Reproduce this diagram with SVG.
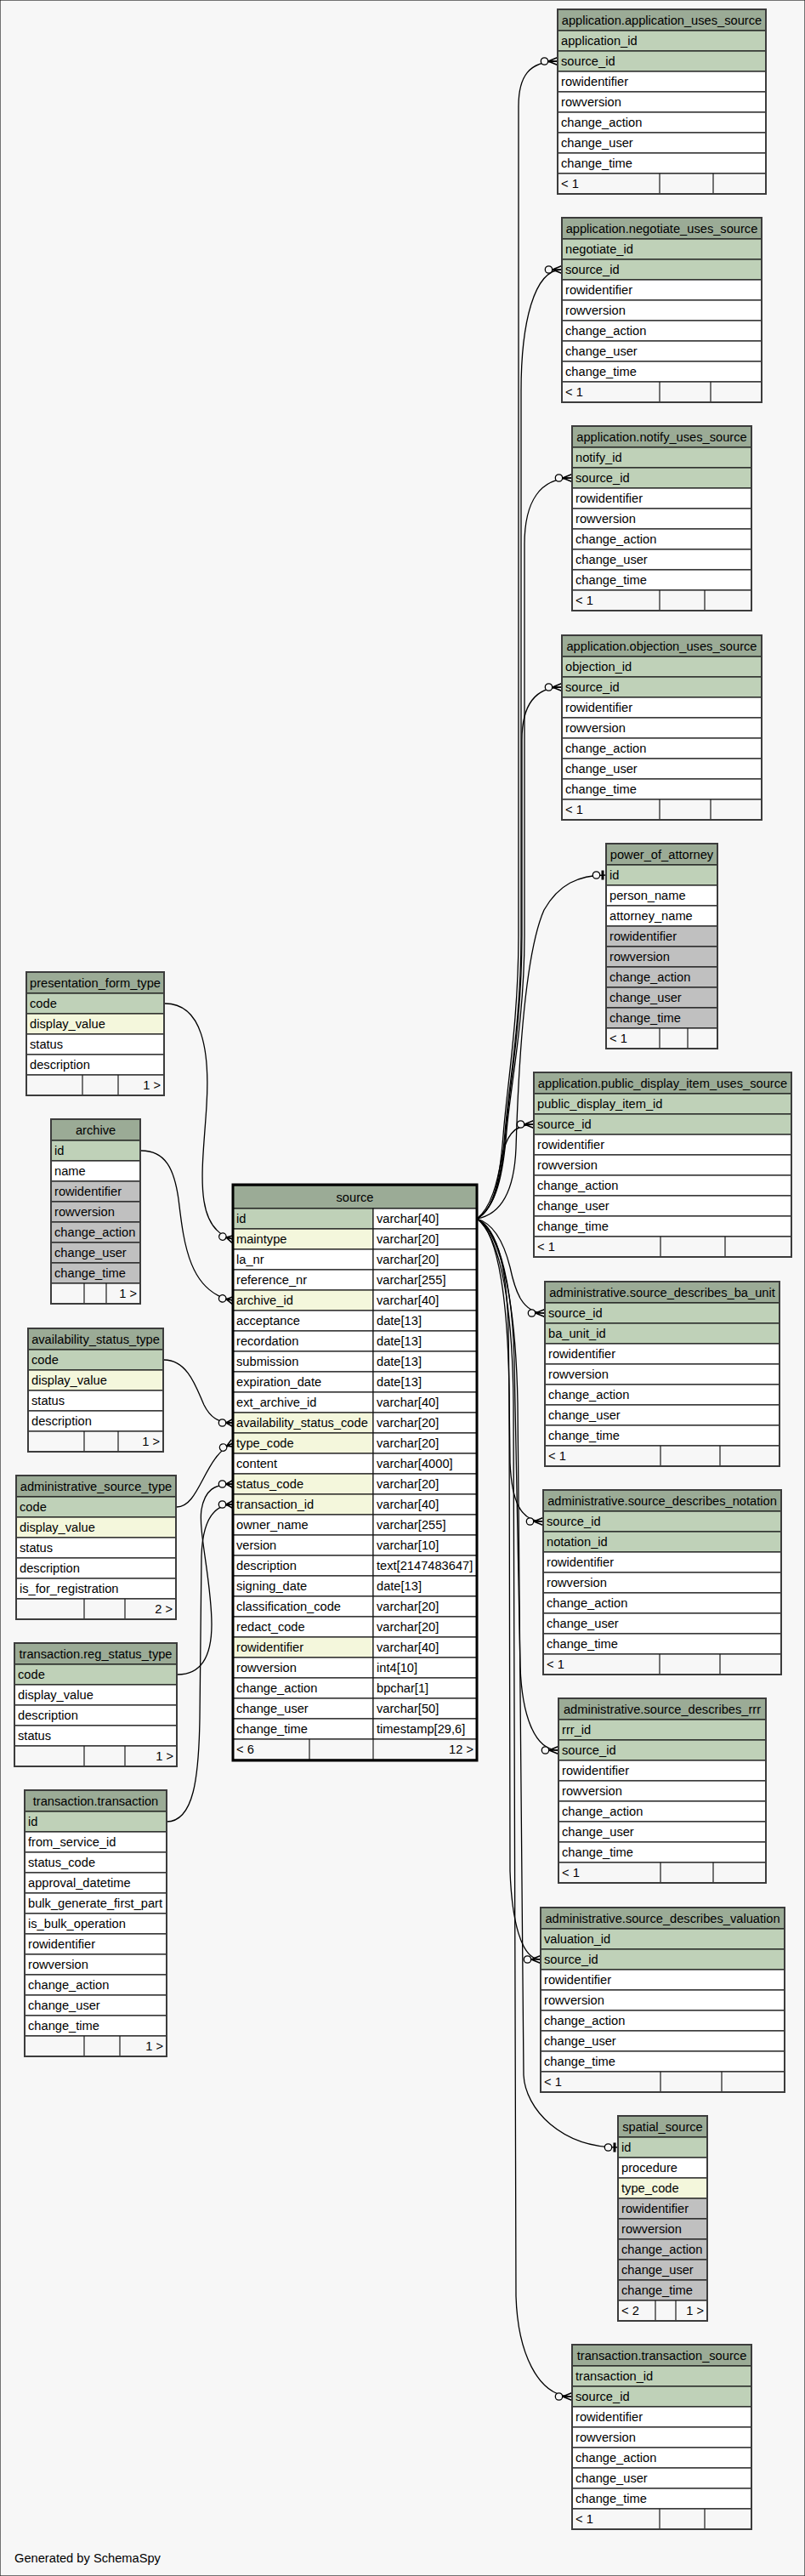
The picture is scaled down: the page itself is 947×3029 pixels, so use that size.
<svg xmlns="http://www.w3.org/2000/svg" width="947" height="3029" viewBox="0 0 947 3029">
<style>
text{font-family:"Liberation Sans",Arial,sans-serif;font-size:14.67px;fill:#000}
.c{text-anchor:middle}
.r{text-anchor:end}
rect{stroke:#1a1a1a;stroke-width:1.2}
.h{fill:#9bab96}
.pk{fill:#bfd1b8}
.fk{fill:#f4f7dc}
.w{fill:#fff}
.g{fill:#c0c0c0}
.ft{fill:#f7f7f7}
.box{fill:none;stroke:#3c3c3c;stroke-width:2}
.sbox{fill:none;stroke:#000;stroke-width:3}
.dv{stroke:#1a1a1a;stroke-width:1.2}
.lk{fill:none;stroke:#000;stroke-width:1.3}
.cr{marker-end:url(#crow)}
.cs{marker-end:url(#crowS)}
.te{marker-end:url(#tee)}
</style>
<defs>
<marker id="crow" markerUnits="userSpaceOnUse" orient="auto" viewBox="-22 -8 24 16" markerWidth="24" markerHeight="16" refX="0" refY="0">
<circle cx="-15.5" cy="0" r="4.2" fill="#f7f7f7" stroke="#000" stroke-width="1.3"/>
<path d="M-11,0L0,-4.5M-11,0L0,0M-11,0L0,4.5" fill="none" stroke="#000" stroke-width="1.6"/>
</marker>
<marker id="crowS" markerUnits="userSpaceOnUse" orient="auto" viewBox="-22 -8 24 16" markerWidth="24" markerHeight="16" refX="0" refY="0">
<circle cx="-12.5" cy="0" r="4.2" fill="#f7f7f7" stroke="#000" stroke-width="1.3"/>
<path d="M-8,0L0,-4.5M-8,0L0,0M-8,0L0,4.5" fill="none" stroke="#000" stroke-width="1.6"/>
</marker>
<marker id="tee" markerUnits="userSpaceOnUse" orient="auto" viewBox="-22 -8 24 16" markerWidth="24" markerHeight="16" refX="0" refY="0">
<circle cx="-11.5" cy="0" r="4.2" fill="#f7f7f7" stroke="#000" stroke-width="1.3"/>
<path d="M-4,-5.5V5.5" fill="none" stroke="#000" stroke-width="3"/>
</marker>
</defs>
<rect x="0" y="0" width="947" height="3029" fill="#f7f7f7" stroke="none"/>

<g id="connectors">
<path class="lk cr" d="M561,1433 C582,1422 588,1385 592,1335 C596,1280 610,1200 610,1100 L610,125 C610,90 622,72 656,72"/>
<path class="lk cr" d="M561,1433 C583,1421 590,1382 594,1332 C598,1280 613,1200 613,1100 L613,460 C613,380 628,317 661,317"/>
<path class="lk cr" d="M561,1433 C584,1420 592,1380 596,1330 C600,1280 617,1200 617,1100 L617,640 C617,590 635,562 673,562"/>
<path class="lk cr" d="M561,1433 C583,1421 591,1381 595,1331 C599,1280 614,1200 614,1100 L614,870 C614,830 628,808 661,808"/>
<path class="lk te" d="M561,1433 C590,1428 605,1400 607,1350 C610,1250 618,1120 640,1070 C657,1040 680,1029 713,1029"/>
<path class="lk cr" d="M561,1433 C578,1420 585,1390 590,1362 C595,1338 603,1322 628,1322"/>
<path class="lk cr" d="M561,1433 C585,1440 595,1470 600,1490 C606,1518 614,1544 641,1544"/>
<path class="lk cr" d="M561,1433 C588,1445 596,1500 598,1560 L600,1720 C602,1765 612,1789 639,1789"/>
<path class="lk cr" d="M561,1433 C590,1448 603,1520 605,1600 L612,1960 C614,2015 628,2058 657,2058"/>
<path class="lk cr" d="M561,1433 C588,1450 598,1540 599,1640 L600,2200 C602,2255 612,2304 636,2304"/>
<path class="lk te" d="M561,1433 C592,1452 607,1540 609,1650 L616,2440 C618,2480 660,2525 727,2525"/>
<path class="lk cr" d="M561,1433 C590,1455 603,1540 604,1650 L607,2700 C609,2765 632,2818 673,2818"/>
<path class="lk cs" d="M194,1180 C238,1180 247,1235 243,1300 C239,1370 225,1445 274,1457"/>
<path class="lk cs" d="M166,1353 C195,1353 205,1375 210,1410 C216,1460 222,1520 274,1529"/>
<path class="lk cs" d="M193,1599 C222,1599 232,1635 240,1652 C247,1666 256,1673 274,1673"/>
<path class="lk cs" d="M208,1772 C235,1772 240,1712 274,1697"/>
<path class="lk cs" d="M209,1969 C238,1969 249,1945 249,1910 C249,1860 233,1800 237,1775 C241,1752 252,1745 274,1745"/>
<path class="lk cs" d="M196,2142 C228,2142 234,2090 235,2020 C236,1950 236,1880 237,1830 C238,1795 248,1769 274,1769"/>
</g>

<g id="app_uses_source">
<rect class="h" x="656" y="11" width="245" height="25"/><text class="c" x="778.5" y="29">application.application_uses_source</text>
<rect class="pk" x="656" y="36" width="245" height="24"/><text x="660" y="53">application_id</text>
<rect class="pk" x="656" y="60" width="245" height="24"/><text x="660" y="77">source_id</text>
<rect class="w" x="656" y="84" width="245" height="24"/><text x="660" y="101">rowidentifier</text>
<rect class="w" x="656" y="108" width="245" height="24"/><text x="660" y="125">rowversion</text>
<rect class="w" x="656" y="132" width="245" height="24"/><text x="660" y="149">change_action</text>
<rect class="w" x="656" y="156" width="245" height="24"/><text x="660" y="173">change_user</text>
<rect class="w" x="656" y="180" width="245" height="24"/><text x="660" y="197">change_time</text>
<rect class="ft" x="656" y="204" width="245" height="24"/><text x="660" y="221">&lt; 1</text>
<line class="dv" x1="776" y1="204" x2="776" y2="228"/><line class="dv" x1="839" y1="204" x2="839" y2="228"/>
<rect class="box" x="656" y="11" width="245" height="217"/>
</g>

<g id="negotiate_uses_source">
<rect class="h" x="661" y="256" width="235" height="25"/><text class="c" x="778.5" y="274">application.negotiate_uses_source</text>
<rect class="pk" x="661" y="281" width="235" height="24"/><text x="665" y="298">negotiate_id</text>
<rect class="pk" x="661" y="305" width="235" height="24"/><text x="665" y="322">source_id</text>
<rect class="w" x="661" y="329" width="235" height="24"/><text x="665" y="346">rowidentifier</text>
<rect class="w" x="661" y="353" width="235" height="24"/><text x="665" y="370">rowversion</text>
<rect class="w" x="661" y="377" width="235" height="24"/><text x="665" y="394">change_action</text>
<rect class="w" x="661" y="401" width="235" height="24"/><text x="665" y="418">change_user</text>
<rect class="w" x="661" y="425" width="235" height="24"/><text x="665" y="442">change_time</text>
<rect class="ft" x="661" y="449" width="235" height="24"/><text x="665" y="466">&lt; 1</text>
<line class="dv" x1="776" y1="449" x2="776" y2="473"/><line class="dv" x1="836" y1="449" x2="836" y2="473"/>
<rect class="box" x="661" y="256" width="235" height="217"/>
</g>

<g id="notify_uses_source">
<rect class="h" x="673" y="501" width="211" height="25"/><text class="c" x="778.5" y="519">application.notify_uses_source</text>
<rect class="pk" x="673" y="526" width="211" height="24"/><text x="677" y="543">notify_id</text>
<rect class="pk" x="673" y="550" width="211" height="24"/><text x="677" y="567">source_id</text>
<rect class="w" x="673" y="574" width="211" height="24"/><text x="677" y="591">rowidentifier</text>
<rect class="w" x="673" y="598" width="211" height="24"/><text x="677" y="615">rowversion</text>
<rect class="w" x="673" y="622" width="211" height="24"/><text x="677" y="639">change_action</text>
<rect class="w" x="673" y="646" width="211" height="24"/><text x="677" y="663">change_user</text>
<rect class="w" x="673" y="670" width="211" height="24"/><text x="677" y="687">change_time</text>
<rect class="ft" x="673" y="694" width="211" height="24"/><text x="677" y="711">&lt; 1</text>
<line class="dv" x1="776" y1="694" x2="776" y2="718"/><line class="dv" x1="829" y1="694" x2="829" y2="718"/>
<rect class="box" x="673" y="501" width="211" height="217"/>
</g>

<g id="objection_uses_source">
<rect class="h" x="661" y="747" width="235" height="25"/><text class="c" x="778.5" y="765">application.objection_uses_source</text>
<rect class="pk" x="661" y="772" width="235" height="24"/><text x="665" y="789">objection_id</text>
<rect class="pk" x="661" y="796" width="235" height="24"/><text x="665" y="813">source_id</text>
<rect class="w" x="661" y="820" width="235" height="24"/><text x="665" y="837">rowidentifier</text>
<rect class="w" x="661" y="844" width="235" height="24"/><text x="665" y="861">rowversion</text>
<rect class="w" x="661" y="868" width="235" height="24"/><text x="665" y="885">change_action</text>
<rect class="w" x="661" y="892" width="235" height="24"/><text x="665" y="909">change_user</text>
<rect class="w" x="661" y="916" width="235" height="24"/><text x="665" y="933">change_time</text>
<rect class="ft" x="661" y="940" width="235" height="24"/><text x="665" y="957">&lt; 1</text>
<line class="dv" x1="776" y1="940" x2="776" y2="964"/><line class="dv" x1="836" y1="940" x2="836" y2="964"/>
<rect class="box" x="661" y="747" width="235" height="217"/>
</g>

<g id="power_of_attorney">
<rect class="h" x="713" y="992" width="131" height="25"/><text class="c" x="778.5" y="1010">power_of_attorney</text>
<rect class="pk" x="713" y="1017" width="131" height="24"/><text x="717" y="1034">id</text>
<rect class="w" x="713" y="1041" width="131" height="24"/><text x="717" y="1058">person_name</text>
<rect class="w" x="713" y="1065" width="131" height="24"/><text x="717" y="1082">attorney_name</text>
<rect class="g" x="713" y="1089" width="131" height="24"/><text x="717" y="1106">rowidentifier</text>
<rect class="g" x="713" y="1113" width="131" height="24"/><text x="717" y="1130">rowversion</text>
<rect class="g" x="713" y="1137" width="131" height="24"/><text x="717" y="1154">change_action</text>
<rect class="g" x="713" y="1161" width="131" height="24"/><text x="717" y="1178">change_user</text>
<rect class="g" x="713" y="1185" width="131" height="24"/><text x="717" y="1202">change_time</text>
<rect class="ft" x="713" y="1209" width="131" height="24"/><text x="717" y="1226">&lt; 1</text>
<line class="dv" x1="776" y1="1209" x2="776" y2="1233"/><line class="dv" x1="809" y1="1209" x2="809" y2="1233"/>
<rect class="box" x="713" y="992" width="131" height="241"/>
</g>

<g id="public_display_item_uses_source">
<rect class="h" x="628" y="1261" width="303" height="25"/><text class="c" x="779.5" y="1279">application.public_display_item_uses_source</text>
<rect class="pk" x="628" y="1286" width="303" height="24"/><text x="632" y="1303">public_display_item_id</text>
<rect class="pk" x="628" y="1310" width="303" height="24"/><text x="632" y="1327">source_id</text>
<rect class="w" x="628" y="1334" width="303" height="24"/><text x="632" y="1351">rowidentifier</text>
<rect class="w" x="628" y="1358" width="303" height="24"/><text x="632" y="1375">rowversion</text>
<rect class="w" x="628" y="1382" width="303" height="24"/><text x="632" y="1399">change_action</text>
<rect class="w" x="628" y="1406" width="303" height="24"/><text x="632" y="1423">change_user</text>
<rect class="w" x="628" y="1430" width="303" height="24"/><text x="632" y="1447">change_time</text>
<rect class="ft" x="628" y="1454" width="303" height="24"/><text x="632" y="1471">&lt; 1</text>
<line class="dv" x1="777" y1="1454" x2="777" y2="1478"/><line class="dv" x1="853" y1="1454" x2="853" y2="1478"/>
<rect class="box" x="628" y="1261" width="303" height="217"/>
</g>

<g id="source_describes_ba_unit">
<rect class="h" x="641" y="1507" width="276" height="25"/><text class="c" x="779" y="1525">administrative.source_describes_ba_unit</text>
<rect class="pk" x="641" y="1532" width="276" height="24"/><text x="645" y="1549">source_id</text>
<rect class="pk" x="641" y="1556" width="276" height="24"/><text x="645" y="1573">ba_unit_id</text>
<rect class="w" x="641" y="1580" width="276" height="24"/><text x="645" y="1597">rowidentifier</text>
<rect class="w" x="641" y="1604" width="276" height="24"/><text x="645" y="1621">rowversion</text>
<rect class="w" x="641" y="1628" width="276" height="24"/><text x="645" y="1645">change_action</text>
<rect class="w" x="641" y="1652" width="276" height="24"/><text x="645" y="1669">change_user</text>
<rect class="w" x="641" y="1676" width="276" height="24"/><text x="645" y="1693">change_time</text>
<rect class="ft" x="641" y="1700" width="276" height="24"/><text x="645" y="1717">&lt; 1</text>
<line class="dv" x1="777" y1="1700" x2="777" y2="1724"/><line class="dv" x1="847" y1="1700" x2="847" y2="1724"/>
<rect class="box" x="641" y="1507" width="276" height="217"/>
</g>

<g id="source_describes_notation">
<rect class="h" x="639" y="1752" width="280" height="25"/><text class="c" x="779" y="1770">administrative.source_describes_notation</text>
<rect class="pk" x="639" y="1777" width="280" height="24"/><text x="643" y="1794">source_id</text>
<rect class="pk" x="639" y="1801" width="280" height="24"/><text x="643" y="1818">notation_id</text>
<rect class="w" x="639" y="1825" width="280" height="24"/><text x="643" y="1842">rowidentifier</text>
<rect class="w" x="639" y="1849" width="280" height="24"/><text x="643" y="1866">rowversion</text>
<rect class="w" x="639" y="1873" width="280" height="24"/><text x="643" y="1890">change_action</text>
<rect class="w" x="639" y="1897" width="280" height="24"/><text x="643" y="1914">change_user</text>
<rect class="w" x="639" y="1921" width="280" height="24"/><text x="643" y="1938">change_time</text>
<rect class="ft" x="639" y="1945" width="280" height="24"/><text x="643" y="1962">&lt; 1</text>
<line class="dv" x1="776" y1="1945" x2="776" y2="1969"/><line class="dv" x1="847" y1="1945" x2="847" y2="1969"/>
<rect class="box" x="639" y="1752" width="280" height="217"/>
</g>

<g id="source_describes_rrr">
<rect class="h" x="657" y="1997" width="244" height="25"/><text class="c" x="779" y="2015">administrative.source_describes_rrr</text>
<rect class="pk" x="657" y="2022" width="244" height="24"/><text x="661" y="2039">rrr_id</text>
<rect class="pk" x="657" y="2046" width="244" height="24"/><text x="661" y="2063">source_id</text>
<rect class="w" x="657" y="2070" width="244" height="24"/><text x="661" y="2087">rowidentifier</text>
<rect class="w" x="657" y="2094" width="244" height="24"/><text x="661" y="2111">rowversion</text>
<rect class="w" x="657" y="2118" width="244" height="24"/><text x="661" y="2135">change_action</text>
<rect class="w" x="657" y="2142" width="244" height="24"/><text x="661" y="2159">change_user</text>
<rect class="w" x="657" y="2166" width="244" height="24"/><text x="661" y="2183">change_time</text>
<rect class="ft" x="657" y="2190" width="244" height="24"/><text x="661" y="2207">&lt; 1</text>
<line class="dv" x1="777" y1="2190" x2="777" y2="2214"/><line class="dv" x1="839" y1="2190" x2="839" y2="2214"/>
<rect class="box" x="657" y="1997" width="244" height="217"/>
</g>

<g id="source_describes_valuation">
<rect class="h" x="636" y="2243" width="287" height="25"/><text class="c" x="779.5" y="2261">administrative.source_describes_valuation</text>
<rect class="pk" x="636" y="2268" width="287" height="24"/><text x="640" y="2285">valuation_id</text>
<rect class="pk" x="636" y="2292" width="287" height="24"/><text x="640" y="2309">source_id</text>
<rect class="w" x="636" y="2316" width="287" height="24"/><text x="640" y="2333">rowidentifier</text>
<rect class="w" x="636" y="2340" width="287" height="24"/><text x="640" y="2357">rowversion</text>
<rect class="w" x="636" y="2364" width="287" height="24"/><text x="640" y="2381">change_action</text>
<rect class="w" x="636" y="2388" width="287" height="24"/><text x="640" y="2405">change_user</text>
<rect class="w" x="636" y="2412" width="287" height="24"/><text x="640" y="2429">change_time</text>
<rect class="ft" x="636" y="2436" width="287" height="24"/><text x="640" y="2453">&lt; 1</text>
<line class="dv" x1="777" y1="2436" x2="777" y2="2460"/><line class="dv" x1="849" y1="2436" x2="849" y2="2460"/>
<rect class="box" x="636" y="2243" width="287" height="217"/>
</g>

<g id="spatial_source">
<rect class="h" x="727" y="2488" width="105" height="25"/><text class="c" x="779.5" y="2506">spatial_source</text>
<rect class="pk" x="727" y="2513" width="105" height="24"/><text x="731" y="2530">id</text>
<rect class="w" x="727" y="2537" width="105" height="24"/><text x="731" y="2554">procedure</text>
<rect class="fk" x="727" y="2561" width="105" height="24"/><text x="731" y="2578">type_code</text>
<rect class="g" x="727" y="2585" width="105" height="24"/><text x="731" y="2602">rowidentifier</text>
<rect class="g" x="727" y="2609" width="105" height="24"/><text x="731" y="2626">rowversion</text>
<rect class="g" x="727" y="2633" width="105" height="24"/><text x="731" y="2650">change_action</text>
<rect class="g" x="727" y="2657" width="105" height="24"/><text x="731" y="2674">change_user</text>
<rect class="g" x="727" y="2681" width="105" height="24"/><text x="731" y="2698">change_time</text>
<rect class="ft" x="727" y="2705" width="105" height="24"/><text x="731" y="2722">&lt; 2</text><text class="r" x="828" y="2722">1 &gt;</text>
<line class="dv" x1="771" y1="2705" x2="771" y2="2729"/><line class="dv" x1="795" y1="2705" x2="795" y2="2729"/>
<rect class="box" x="727" y="2488" width="105" height="241"/>
</g>

<g id="transaction_source">
<rect class="h" x="673" y="2757" width="211" height="25"/><text class="c" x="778.5" y="2775">transaction.transaction_source</text>
<rect class="pk" x="673" y="2782" width="211" height="24"/><text x="677" y="2799">transaction_id</text>
<rect class="pk" x="673" y="2806" width="211" height="24"/><text x="677" y="2823">source_id</text>
<rect class="w" x="673" y="2830" width="211" height="24"/><text x="677" y="2847">rowidentifier</text>
<rect class="w" x="673" y="2854" width="211" height="24"/><text x="677" y="2871">rowversion</text>
<rect class="w" x="673" y="2878" width="211" height="24"/><text x="677" y="2895">change_action</text>
<rect class="w" x="673" y="2902" width="211" height="24"/><text x="677" y="2919">change_user</text>
<rect class="w" x="673" y="2926" width="211" height="24"/><text x="677" y="2943">change_time</text>
<rect class="ft" x="673" y="2950" width="211" height="24"/><text x="677" y="2967">&lt; 1</text>
<line class="dv" x1="776" y1="2950" x2="776" y2="2974"/><line class="dv" x1="829" y1="2950" x2="829" y2="2974"/>
<rect class="box" x="673" y="2757" width="211" height="217"/>
</g>

<g id="presentation_form_type">
<rect class="h" x="31" y="1143" width="162" height="25"/><text class="c" x="112" y="1161">presentation_form_type</text>
<rect class="pk" x="31" y="1168" width="162" height="24"/><text x="35" y="1185">code</text>
<rect class="fk" x="31" y="1192" width="162" height="24"/><text x="35" y="1209">display_value</text>
<rect class="w" x="31" y="1216" width="162" height="24"/><text x="35" y="1233">status</text>
<rect class="w" x="31" y="1240" width="162" height="24"/><text x="35" y="1257">description</text>
<rect class="ft" x="31" y="1264" width="162" height="24"/><text class="r" x="189" y="1281">1 &gt;</text>
<line class="dv" x1="97" y1="1264" x2="97" y2="1288"/><line class="dv" x1="139" y1="1264" x2="139" y2="1288"/>
<rect class="box" x="31" y="1143" width="162" height="145"/>
</g>

<g id="archive">
<rect class="h" x="60" y="1316" width="105" height="25"/><text class="c" x="112.5" y="1334">archive</text>
<rect class="pk" x="60" y="1341" width="105" height="24"/><text x="64" y="1358">id</text>
<rect class="w" x="60" y="1365" width="105" height="24"/><text x="64" y="1382">name</text>
<rect class="g" x="60" y="1389" width="105" height="24"/><text x="64" y="1406">rowidentifier</text>
<rect class="g" x="60" y="1413" width="105" height="24"/><text x="64" y="1430">rowversion</text>
<rect class="g" x="60" y="1437" width="105" height="24"/><text x="64" y="1454">change_action</text>
<rect class="g" x="60" y="1461" width="105" height="24"/><text x="64" y="1478">change_user</text>
<rect class="g" x="60" y="1485" width="105" height="24"/><text x="64" y="1502">change_time</text>
<rect class="ft" x="60" y="1509" width="105" height="24"/><text class="r" x="161" y="1526">1 &gt;</text>
<line class="dv" x1="99" y1="1509" x2="99" y2="1533"/><line class="dv" x1="125" y1="1509" x2="125" y2="1533"/>
<rect class="box" x="60" y="1316" width="105" height="217"/>
</g>

<g id="availability_status_type">
<rect class="h" x="33" y="1562" width="159" height="25"/><text class="c" x="112.5" y="1580">availability_status_type</text>
<rect class="pk" x="33" y="1587" width="159" height="24"/><text x="37" y="1604">code</text>
<rect class="fk" x="33" y="1611" width="159" height="24"/><text x="37" y="1628">display_value</text>
<rect class="w" x="33" y="1635" width="159" height="24"/><text x="37" y="1652">status</text>
<rect class="w" x="33" y="1659" width="159" height="24"/><text x="37" y="1676">description</text>
<rect class="ft" x="33" y="1683" width="159" height="24"/><text class="r" x="188" y="1700">1 &gt;</text>
<line class="dv" x1="99" y1="1683" x2="99" y2="1707"/><line class="dv" x1="139" y1="1683" x2="139" y2="1707"/>
<rect class="box" x="33" y="1562" width="159" height="145"/>
</g>

<g id="administrative_source_type">
<rect class="h" x="19" y="1735" width="188" height="25"/><text class="c" x="113" y="1753">administrative_source_type</text>
<rect class="pk" x="19" y="1760" width="188" height="24"/><text x="23" y="1777">code</text>
<rect class="fk" x="19" y="1784" width="188" height="24"/><text x="23" y="1801">display_value</text>
<rect class="w" x="19" y="1808" width="188" height="24"/><text x="23" y="1825">status</text>
<rect class="w" x="19" y="1832" width="188" height="24"/><text x="23" y="1849">description</text>
<rect class="w" x="19" y="1856" width="188" height="24"/><text x="23" y="1873">is_for_registration</text>
<rect class="ft" x="19" y="1880" width="188" height="24"/><text class="r" x="203" y="1897">2 &gt;</text>
<line class="dv" x1="99" y1="1880" x2="99" y2="1904"/><line class="dv" x1="147" y1="1880" x2="147" y2="1904"/>
<rect class="box" x="19" y="1735" width="188" height="169"/>
</g>

<g id="reg_status_type">
<rect class="h" x="17" y="1932" width="191" height="25"/><text class="c" x="112.5" y="1950">transaction.reg_status_type</text>
<rect class="pk" x="17" y="1957" width="191" height="24"/><text x="21" y="1974">code</text>
<rect class="w" x="17" y="1981" width="191" height="24"/><text x="21" y="1998">display_value</text>
<rect class="w" x="17" y="2005" width="191" height="24"/><text x="21" y="2022">description</text>
<rect class="w" x="17" y="2029" width="191" height="24"/><text x="21" y="2046">status</text>
<rect class="ft" x="17" y="2053" width="191" height="24"/><text class="r" x="204" y="2070">1 &gt;</text>
<line class="dv" x1="99" y1="2053" x2="99" y2="2077"/><line class="dv" x1="147" y1="2053" x2="147" y2="2077"/>
<rect class="box" x="17" y="1932" width="191" height="145"/>
</g>

<g id="transaction">
<rect class="h" x="29" y="2105" width="167" height="25"/><text class="c" x="112.5" y="2123">transaction.transaction</text>
<rect class="pk" x="29" y="2130" width="167" height="24"/><text x="33" y="2147">id</text>
<rect class="w" x="29" y="2154" width="167" height="24"/><text x="33" y="2171">from_service_id</text>
<rect class="w" x="29" y="2178" width="167" height="24"/><text x="33" y="2195">status_code</text>
<rect class="w" x="29" y="2202" width="167" height="24"/><text x="33" y="2219">approval_datetime</text>
<rect class="w" x="29" y="2226" width="167" height="24"/><text x="33" y="2243">bulk_generate_first_part</text>
<rect class="w" x="29" y="2250" width="167" height="24"/><text x="33" y="2267">is_bulk_operation</text>
<rect class="w" x="29" y="2274" width="167" height="24"/><text x="33" y="2291">rowidentifier</text>
<rect class="w" x="29" y="2298" width="167" height="24"/><text x="33" y="2315">rowversion</text>
<rect class="w" x="29" y="2322" width="167" height="24"/><text x="33" y="2339">change_action</text>
<rect class="w" x="29" y="2346" width="167" height="24"/><text x="33" y="2363">change_user</text>
<rect class="w" x="29" y="2370" width="167" height="24"/><text x="33" y="2387">change_time</text>
<rect class="ft" x="29" y="2394" width="167" height="24"/><text class="r" x="192" y="2411">1 &gt;</text>
<line class="dv" x1="99" y1="2394" x2="99" y2="2418"/><line class="dv" x1="141" y1="2394" x2="141" y2="2418"/>
<rect class="box" x="29" y="2105" width="167" height="313"/>
</g>

<g id="source">
<rect class="h" x="274" y="1394" width="287" height="27"/><text class="c" x="417.5" y="1413">source</text>
<rect class="pk" x="274" y="1421" width="165" height="24"/><rect class="w" x="439" y="1421" width="122" height="24"/><text x="278" y="1438">id</text><text x="443" y="1438">varchar[40]</text>
<rect class="fk" x="274" y="1445" width="165" height="24"/><rect class="w" x="439" y="1445" width="122" height="24"/><text x="278" y="1462">maintype</text><text x="443" y="1462">varchar[20]</text>
<rect class="w" x="274" y="1469" width="165" height="24"/><rect class="w" x="439" y="1469" width="122" height="24"/><text x="278" y="1486">la_nr</text><text x="443" y="1486">varchar[20]</text>
<rect class="w" x="274" y="1493" width="165" height="24"/><rect class="w" x="439" y="1493" width="122" height="24"/><text x="278" y="1510">reference_nr</text><text x="443" y="1510">varchar[255]</text>
<rect class="fk" x="274" y="1517" width="165" height="24"/><rect class="w" x="439" y="1517" width="122" height="24"/><text x="278" y="1534">archive_id</text><text x="443" y="1534">varchar[40]</text>
<rect class="w" x="274" y="1541" width="165" height="24"/><rect class="w" x="439" y="1541" width="122" height="24"/><text x="278" y="1558">acceptance</text><text x="443" y="1558">date[13]</text>
<rect class="w" x="274" y="1565" width="165" height="24"/><rect class="w" x="439" y="1565" width="122" height="24"/><text x="278" y="1582">recordation</text><text x="443" y="1582">date[13]</text>
<rect class="w" x="274" y="1589" width="165" height="24"/><rect class="w" x="439" y="1589" width="122" height="24"/><text x="278" y="1606">submission</text><text x="443" y="1606">date[13]</text>
<rect class="w" x="274" y="1613" width="165" height="24"/><rect class="w" x="439" y="1613" width="122" height="24"/><text x="278" y="1630">expiration_date</text><text x="443" y="1630">date[13]</text>
<rect class="w" x="274" y="1637" width="165" height="24"/><rect class="w" x="439" y="1637" width="122" height="24"/><text x="278" y="1654">ext_archive_id</text><text x="443" y="1654">varchar[40]</text>
<rect class="fk" x="274" y="1661" width="165" height="24"/><rect class="w" x="439" y="1661" width="122" height="24"/><text x="278" y="1678">availability_status_code</text><text x="443" y="1678">varchar[20]</text>
<rect class="fk" x="274" y="1685" width="165" height="24"/><rect class="w" x="439" y="1685" width="122" height="24"/><text x="278" y="1702">type_code</text><text x="443" y="1702">varchar[20]</text>
<rect class="w" x="274" y="1709" width="165" height="24"/><rect class="w" x="439" y="1709" width="122" height="24"/><text x="278" y="1726">content</text><text x="443" y="1726">varchar[4000]</text>
<rect class="fk" x="274" y="1733" width="165" height="24"/><rect class="w" x="439" y="1733" width="122" height="24"/><text x="278" y="1750">status_code</text><text x="443" y="1750">varchar[20]</text>
<rect class="fk" x="274" y="1757" width="165" height="24"/><rect class="w" x="439" y="1757" width="122" height="24"/><text x="278" y="1774">transaction_id</text><text x="443" y="1774">varchar[40]</text>
<rect class="w" x="274" y="1781" width="165" height="24"/><rect class="w" x="439" y="1781" width="122" height="24"/><text x="278" y="1798">owner_name</text><text x="443" y="1798">varchar[255]</text>
<rect class="w" x="274" y="1805" width="165" height="24"/><rect class="w" x="439" y="1805" width="122" height="24"/><text x="278" y="1822">version</text><text x="443" y="1822">varchar[10]</text>
<rect class="w" x="274" y="1829" width="165" height="24"/><rect class="w" x="439" y="1829" width="122" height="24"/><text x="278" y="1846">description</text><text x="443" y="1846">text[2147483647]</text>
<rect class="w" x="274" y="1853" width="165" height="24"/><rect class="w" x="439" y="1853" width="122" height="24"/><text x="278" y="1870">signing_date</text><text x="443" y="1870">date[13]</text>
<rect class="w" x="274" y="1877" width="165" height="24"/><rect class="w" x="439" y="1877" width="122" height="24"/><text x="278" y="1894">classification_code</text><text x="443" y="1894">varchar[20]</text>
<rect class="w" x="274" y="1901" width="165" height="24"/><rect class="w" x="439" y="1901" width="122" height="24"/><text x="278" y="1918">redact_code</text><text x="443" y="1918">varchar[20]</text>
<rect class="fk" x="274" y="1925" width="165" height="24"/><rect class="w" x="439" y="1925" width="122" height="24"/><text x="278" y="1942">rowidentifier</text><text x="443" y="1942">varchar[40]</text>
<rect class="w" x="274" y="1949" width="165" height="24"/><rect class="w" x="439" y="1949" width="122" height="24"/><text x="278" y="1966">rowversion</text><text x="443" y="1966">int4[10]</text>
<rect class="w" x="274" y="1973" width="165" height="24"/><rect class="w" x="439" y="1973" width="122" height="24"/><text x="278" y="1990">change_action</text><text x="443" y="1990">bpchar[1]</text>
<rect class="w" x="274" y="1997" width="165" height="24"/><rect class="w" x="439" y="1997" width="122" height="24"/><text x="278" y="2014">change_user</text><text x="443" y="2014">varchar[50]</text>
<rect class="w" x="274" y="2021" width="165" height="24"/><rect class="w" x="439" y="2021" width="122" height="24"/><text x="278" y="2038">change_time</text><text x="443" y="2038">timestamp[29,6]</text>
<rect class="ft" x="274" y="2045" width="287" height="24"/><text x="278" y="2062">&lt; 6</text><text class="r" x="557" y="2062">12 &gt;</text>
<line class="dv" x1="364" y1="2045" x2="364" y2="2069"/><line class="dv" x1="439" y1="2045" x2="439" y2="2069"/>
<rect class="sbox" x="274" y="1393" width="287" height="677"/>
</g>

<text x="17" y="3013">Generated by SchemaSpy</text>
</svg>
